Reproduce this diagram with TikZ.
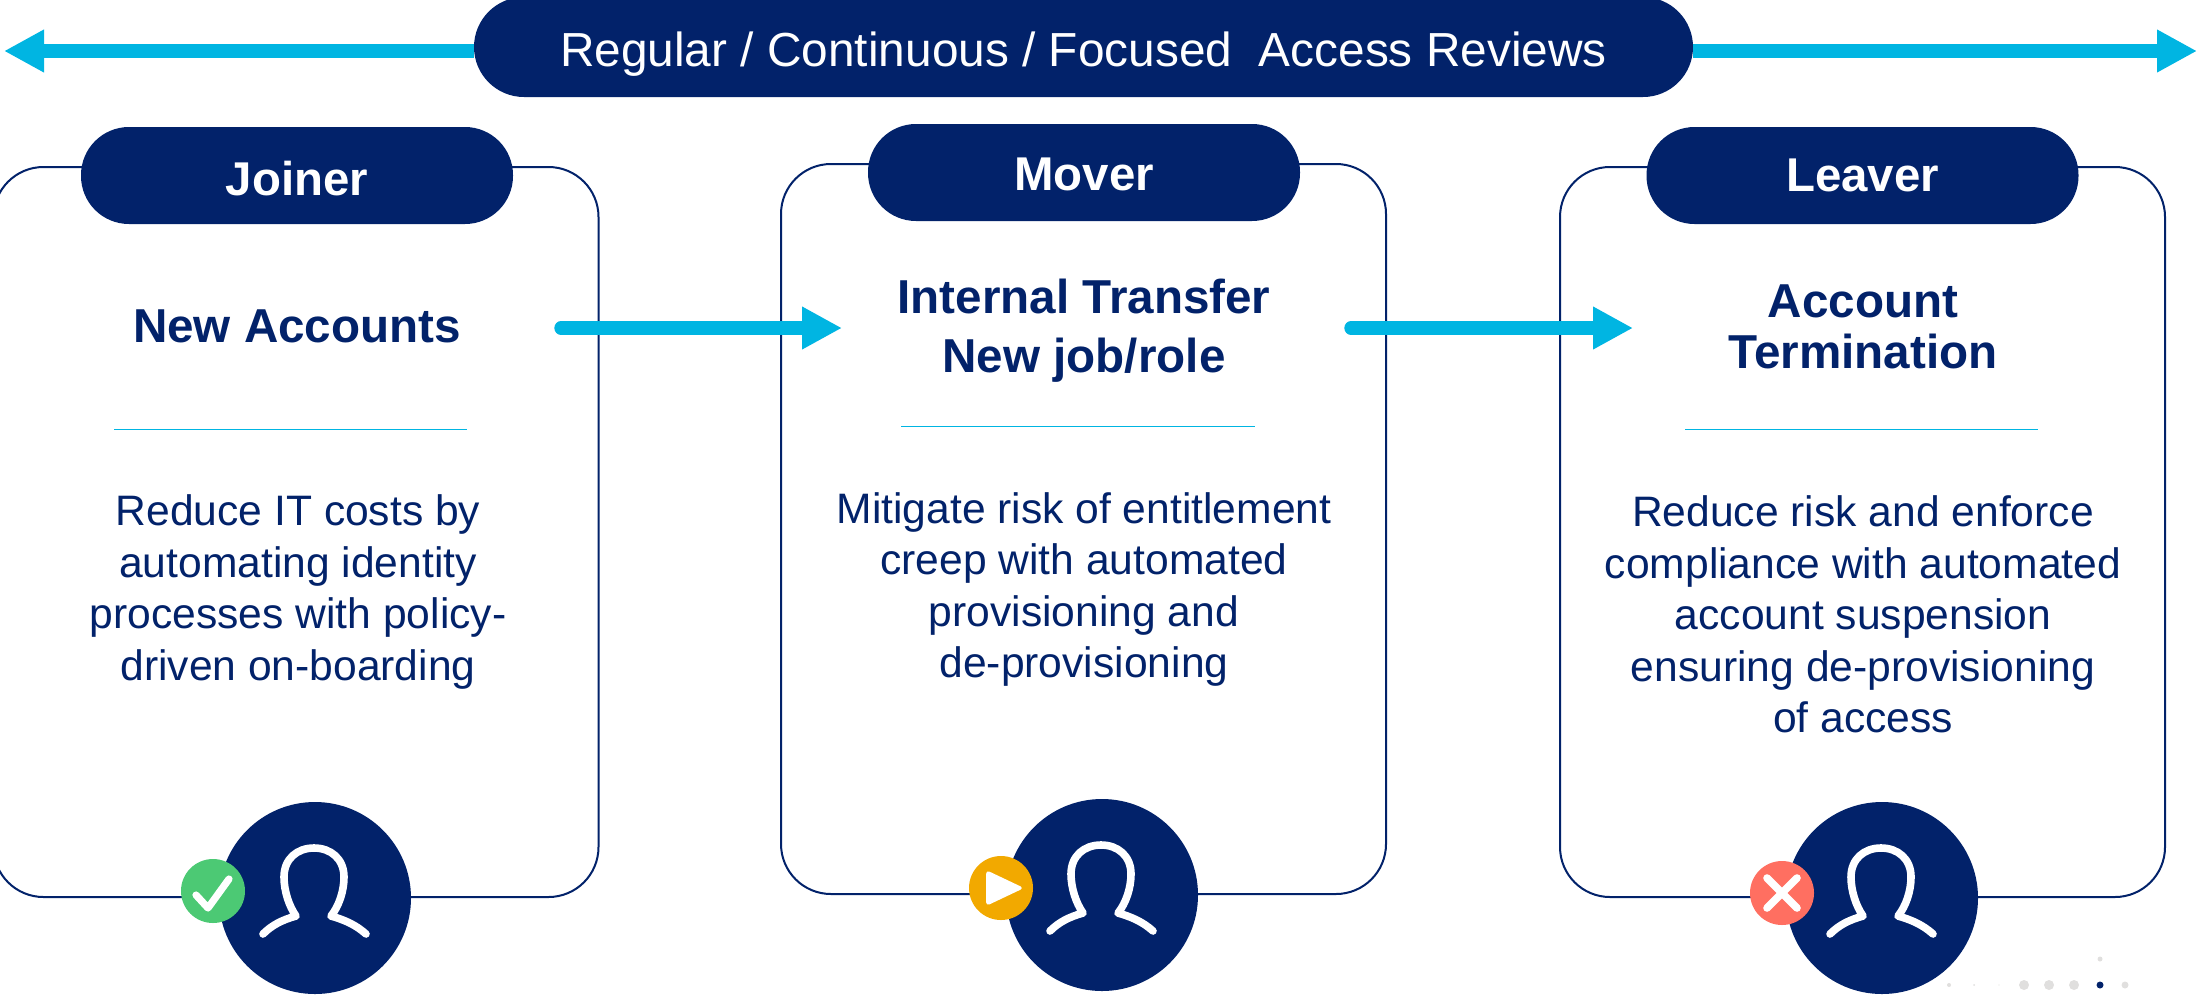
\documentclass[tikz,border=0pt]{standalone}
\usepackage{fontspec}
\setmainfont{Liberation Sans}
\usetikzlibrary{arrows.meta}
\definecolor{navyblue}{HTML}{02226A}
\definecolor{flowcyan}{HTML}{00B5E2}
\definecolor{okgreen}{HTML}{4CC974}
\definecolor{moveamber}{HTML}{F2A900}
\definecolor{stopred}{HTML}{FF6F61}
\definecolor{dotgrey}{HTML}{E0DFDE}
\tikzset{
  cardbox/.style={draw=navyblue, line width=1pt, fill=white, rounded corners=25pt, minimum width=302.5pt, minimum height=365pt},
  titlepill/.style={fill=navyblue, text=white, rounded corners=24pt, minimum width=216pt, minimum height=48.5pt, text depth=0pt, font=\bfseries\fontsize{23.7}{28}\selectfont},
  headline/.style={text=navyblue, align=center, font=\bfseries\fontsize{23.8}{#1}\selectfont},
  bodytext/.style={text=navyblue, align=center, font=\fontsize{21.3}{25.8}\selectfont},
  dividerline/.style={draw=flowcyan, line width=0.5pt},
  personcircle/.style={circle, fill=navyblue, minimum size=96pt, inner sep=0pt},
  badge/.style={circle, minimum size=32pt, inner sep=0pt},
  flowarrow/.style={draw=flowcyan, line width=6.7pt, line cap=round, -{Triangle[length=20pt,width=20pt]}, flowcyan},
  reviewarrow/.style={draw=flowcyan, line width=7pt, -{Triangle[length=20pt,width=20pt]}, flowcyan},
  person/.pic={
    \draw[white, line width=3.8pt, line cap=round, line join=round]
      (-52,36) .. controls (-43,27) and (-33,22) .. (-19,18)
      .. controls (-26,8) and (-31,-7) .. (-31,-21)
      .. controls (-31,-39) and (-18,-50) .. (-1,-50)
      .. controls (16,-50) and (29,-39) .. (29,-21)
      .. controls (29,-7) and (24,8) .. (16,18)
      .. controls (30,22) and (41,27) .. (51,36);
  },
  checkmark/.pic={
    \draw[white, line width=3.6pt, line cap=round, line join=round] (-17,4) -- (-5,17) -- (16,-12);
  },
  playmark/.pic={
    \fill[white, rounded corners=2pt] (-15,-18) -- (23,0) -- (-15,18) -- cycle;
  },
  crossmark/.pic={
    \draw[white, line width=3.8pt, line cap=round] (-15,-15) -- (15,15) (-15,15) -- (15,-15);
  }
}
\begin{document}
\begin{tikzpicture}[x=0.5pt,y=-0.5pt]
    \useasboundingbox (0,0) rectangle (2198,997);

    % Review bar
    \node[fill=navyblue, text=white, rounded corners=25pt, minimum width=609.5pt, minimum height=50pt, text height=19pt, text depth=0pt, font=\fontsize{23.9}{28}\selectfont] (reviewbar) at (1083.5,47) {Regular / Continuous / Focused\ \ Access Reviews};
    \coordinate (lefttip) at (4,51);
    \coordinate (righttip) at (2197,51);
    \draw[reviewarrow] (reviewbar.west |- lefttip) -- (lefttip);
    \draw[reviewarrow] (reviewbar.east |- righttip) -- (righttip);

    % Joiner card
    \node[cardbox] (joinercard) at (296,532) {};
    \node[titlepill, text height=19.5pt] (joinerpill) at (297,175.5) {Joiner};
    \node[headline=28] (joinerhead) at (297,326.5) {New Accounts};
    \draw[dividerline] (114,429) -- (467,429);
    \node[bodytext] (joinerbody) at (298,592) {Reduce IT costs by\\automating identity\\processes with policy-\\driven on-boarding};
    \node[personcircle] (joinerperson) at (315,898) {};
    \pic at (joinerperson) {person};
    \node[badge, fill=okgreen] (joinerbadge) at (213,891) {};
    \pic at (joinerbadge) {checkmark};

    % Mover card
    \node[cardbox] (movercard) at (1083.5,529) {};
    \node[titlepill, text height=17.5pt] (moverpill) at (1084,172.5) {Mover};
    \node[headline=29.5] (moverhead) at (1084,331) {Internal Transfer\\New job/role};
    \draw[dividerline] (901,426) -- (1255,426);
    \node[bodytext] (moverbody) at (1084,589.5) {Mitigate risk of entitlement\\creep with automated\\provisioning and\\de-provisioning};
    \node[personcircle] (moverperson) at (1102,895) {};
    \pic at (moverperson) {person};
    \node[badge, fill=moveamber] (moverbadge) at (1001,888) {};
    \pic at (moverbadge) {playmark};

    % Leaver card
    \node[cardbox] (leavercard) at (1862.5,532) {};
    \node[titlepill, text height=15.5pt] (leaverpill) at (1862.5,175.5) {Leaver};
    \node[headline=25.5] (leaverhead) at (1863,326.5) {Account\\Termination};
    \draw[dividerline] (1685,429) -- (2038,429);
    \node[bodytext] (leaverbody) at (1863,614.5) {Reduce risk and enforce\\compliance with automated\\account suspension\\ensuring de-provisioning\\of access};
    \node[personcircle] (leaverperson) at (1882,898) {};
    \pic at (leaverperson) {person};
    \node[badge, fill=stopred] (leaverbadge) at (1782,893) {};
    \pic at (leaverbadge) {crossmark};

    % Flow arrows
    \coordinate (joinerout) at (561,328);
    \coordinate (moverin) at (842,328);
    \coordinate (moverout) at (1351,328);
    \coordinate (leaverin) at (1633,328);
    \draw[flowarrow] (joinerout) -- (moverin);
    \draw[flowarrow] (moverout) -- (leaverin);

    % Page dots
    \foreach \xpos/\dotr in {1949/2, 1974/1, 1999/0.6, 2024/5, 2049/5, 2074/5, 2125/3.5}
        \fill[dotgrey] (\xpos,985) circle ({\dotr*0.5pt});
    \fill[navyblue] (2100,985) circle (1.75pt);
    \fill[dotgrey] (2100,959) circle (1.25pt);
\end{tikzpicture}
\end{document}
